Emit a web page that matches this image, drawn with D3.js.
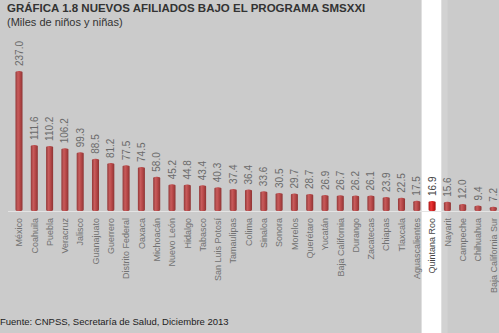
<!DOCTYPE html>
<html>
<head>
<meta charset="utf-8">
<script src="https://d3js.org/d3.v7.min.js"></script>
<style>
  body { margin: 0; background: #cbcbcb; }
  svg { display: block; font-family: "Liberation Sans", Arial, sans-serif; }
</style>
</head>
<body>
<svg id="chart" width="499" height="333"></svg>
<script>
var estados = ['México', 'Coahuila', 'Puebla', 'Veracruz', 'Jalisco', 'Guanajuato', 'Guerrero',
  'Distrito Federal', 'Oaxaca', 'Michoacán', 'Nuevo León', 'Hidalgo', 'Tabasco', 'San Luis Potosí',
  'Tamaulipas', 'Colima', 'Sinaloa', 'Sonora', 'Morelos', 'Querétaro', 'Yucatán', 'Baja California',
  'Durango', 'Zacatecas', 'Chiapas', 'Tlaxcala', 'Aguascalientes', 'Quintana Roo', 'Nayarit',
  'Campeche', 'Chihuahua', 'Baja California Sur'];
var afiliados = [237.0, 111.6, 110.2, 106.2, 99.3, 88.5, 81.2, 77.5, 74.5, 58.0, 45.2, 44.8, 43.4,
  40.3, 37.4, 36.4, 33.6, 30.5, 29.7, 28.7, 26.9, 26.7, 26.2, 26.1, 23.9, 22.5, 17.5, 16.9, 15.6,
  12.0, 9.4, 7.2];
var destacado = 'Quintana Roo';

var data = estados.map(function (d, i) { return { estado: d, valor: afiliados[i] }; });

var svg = d3.select('#chart');
var W = 499, H = 333;
var base = 211;

var x = d3.scaleBand()
  .domain(estados)
  .range([11.35, 500.95])
  .paddingInner(0.54)
  .paddingOuter(0.27);

var y = d3.scaleLinear()
  .domain([0, 237])
  .range([base, 71]);

var defs = svg.append('defs');
function grad(id, stops) {
  var g = defs.append('linearGradient').attr('id', id)
    .attr('x1', '0%').attr('x2', '100%').attr('y1', '0%').attr('y2', '0%');
  stops.forEach(function (s) {
    g.append('stop').attr('offset', s[0]).attr('stop-color', s[1]);
  });
}
grad('barra', [['0%', '#923838'], ['35%', '#c85c5c'], ['60%', '#ba4a4a'], ['100%', '#8e3434']]);
grad('barraHi', [['0%', '#a81414'], ['35%', '#ec3a3a'], ['60%', '#d82424'], ['100%', '#a01010']]);

// franja blanca de Quintana Roo
svg.append('rect')
  .attr('x', x(destacado) + x.bandwidth() / 2 - 10.5)
  .attr('y', 0)
  .attr('width', 20)
  .attr('height', H)
  .attr('fill', '#ffffff');
svg.append('rect')
  .attr('x', x(destacado) + x.bandwidth() / 2 + 9.5)
  .attr('y', 0)
  .attr('width', 6)
  .attr('height', H)
  .attr('fill', '#d2d2d2');

// línea base
svg.append('line')
  .attr('x1', 8).attr('x2', W)
  .attr('y1', base + 0.5).attr('y2', base + 0.5)
  .attr('stroke', '#e4e4e4').attr('stroke-width', 1);

svg.selectAll('rect.bar')
  .data(data)
  .enter()
  .append('rect')
  .attr('class', 'bar')
  .attr('x', function (d) { return x(d.estado); })
  .attr('y', function (d) { return y(d.valor); })
  .attr('width', x.bandwidth())
  .attr('height', function (d) { return base - y(d.valor); })
  .attr('rx', 3).attr('ry', 1.5)
  .attr('fill', function (d) { return d.estado === destacado ? 'url(#barraHi)' : 'url(#barra)'; });

// etiquetas de valor
svg.selectAll('text.val')
  .data(data)
  .enter()
  .append('text')
  .attr('class', 'val')
  .attr('transform', function (d) {
    return 'translate(' + (x(d.estado) + x.bandwidth() / 2 + 3.5) + ',' + (y(d.valor) - 5) + ') rotate(-90)';
  })
  .attr('font-size', 10)
  .attr('fill', function (d) { return d.estado === destacado ? '#444' : '#6a6a6a'; })
  .text(function (d) { return d.valor.toFixed(1); });

// etiquetas de categoría
svg.selectAll('text.cat')
  .data(data)
  .enter()
  .append('text')
  .attr('class', 'cat')
  .attr('transform', function (d) {
    return 'translate(' + (x(d.estado) + x.bandwidth() / 2 + 3.2) + ',' + (base + 7) + ') rotate(-90)';
  })
  .attr('text-anchor', 'end')
  .attr('font-size', 9)
  .attr('fill', function (d) { return d.estado === destacado ? '#444' : '#727272'; })
  .text(function (d) { return d.estado; });

svg.append('text')
  .attr('x', 7).attr('y', 12)
  .attr('font-size', 11.5).attr('font-weight', 'bold')
  .attr('fill', '#333')
  .text('GRÁFICA 1.8 NUEVOS AFILIADOS BAJO EL PROGRAMA SMSXXI');

svg.append('text')
  .attr('x', 7).attr('y', 26)
  .attr('font-size', 11)
  .attr('fill', '#333')
  .text('(Miles de niños y niñas)');

svg.append('text')
  .attr('x', 0).attr('y', 325)
  .attr('font-size', 9.5)
  .attr('fill', '#222')
  .text('Fuente: CNPSS, Secretaría de Salud, Diciembre 2013');
</script>
</body>
</html>
